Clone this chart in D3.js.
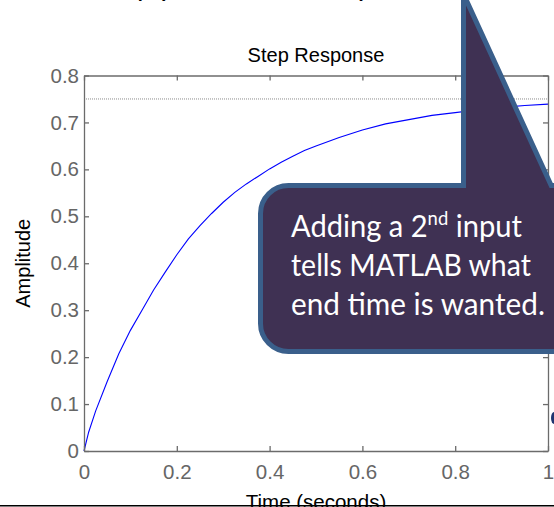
<!DOCTYPE html>
<html>
<head>
<meta charset="utf-8">
<script src="https://cdn.jsdelivr.net/npm/d3@7"></script>
<style>
  html, body { margin: 0; padding: 0; background: #fff; }
  svg { display: block; }
</style>
</head>
<body>
<svg id="chart" width="554" height="507"></svg>
<script>
// values
const timeS = [0, 0.01, 0.025, 0.05, 0.075, 0.1, 0.125, 0.15, 0.175, 0.2, 0.225, 0.25,
  0.275, 0.3, 0.325, 0.35, 0.375, 0.4, 0.425, 0.45, 0.475, 0.5, 0.55, 0.6, 0.65,
  0.7, 0.75, 0.8, 0.85, 0.9, 0.95, 1.0];
const amplitude = [0, 0.04, 0.085, 0.148, 0.207, 0.257, 0.3, 0.343, 0.381, 0.418, 0.452, 0.48,
  0.506, 0.53, 0.551, 0.569, 0.585, 0.601, 0.615, 0.628, 0.64, 0.65, 0.668, 0.684, 0.697,
  0.706, 0.715, 0.721, 0.727, 0.732, 0.736, 0.739];
const steadyState = [0.75];
const xTicks = [0, 0.2, 0.4, 0.6, 0.8, 1];
const yTicks = [0, 0.1, 0.2, 0.3, 0.4, 0.5, 0.6, 0.7, 0.8];
const calloutLines = [
  { parts: [["Adding a 2", false], ["nd", true], [" input", false]], right: 522 },
  { parts: [["tells MATLAB what", false]], right: 531 },
  { parts: [["end time is wanted.", false]], right: 545 }
];

const width = 554;
const height = 507;
const plotL = 84, plotR = 548, plotT = 75.5, plotB = 451;
const axisGray = "#6b6b6b";

const svg = d3.select("#chart");
svg.append("rect").attr("width", width).attr("height", height).attr("fill", "#fff");

const x = d3.scaleLinear().domain([0, 1]).range([plotL, plotR]);
const y = d3.scaleLinear().domain([0, 0.8]).range([plotB, plotT]);
const fmt = d3.format("~g");

// cut-off code line at the very top, only its lowest pixels show
svg.append("text")
  .attr("x", 86).attr("y", -5)
  .style("font-family", "Liberation Mono, monospace")
  .style("font-size", "28px")
  .attr("fill", "#000")
  .text("step(num, den, 1)");

// steady state line
svg.selectAll(".ss")
  .data(steadyState)
  .join("line")
  .attr("class", "ss")
  .attr("x1", x(0)).attr("x2", x(1))
  .attr("y1", d => y(d)).attr("y2", d => y(d))
  .attr("stroke", "#8a8a8a")
  .attr("stroke-width", 1)
  .attr("stroke-dasharray", "1,1");

// response curve
const line = d3.line()
  .x((d, i) => x(timeS[i]))
  .y(d => y(d));

svg.append("path")
  .datum(amplitude)
  .attr("d", line)
  .attr("fill", "none")
  .attr("stroke", "#0000ff")
  .attr("stroke-width", 1.1);

// axes, box style with inward ticks
function styleAxis(g) {
  g.selectAll("path, line").attr("stroke", axisGray).attr("stroke-width", 1.3);
  g.selectAll("text")
    .attr("fill", "#666")
    .style("font-family", "Liberation Sans, Arial, sans-serif")
    .style("font-size", "20.5px");
}

svg.append("g")
  .attr("transform", `translate(0,${plotB})`)
  .call(d3.axisBottom(x).tickValues(xTicks).tickFormat(fmt)
    .tickSizeInner(-5).tickSizeOuter(0).tickPadding(13))
  .call(styleAxis);

svg.append("g")
  .attr("transform", `translate(${plotL},0)`)
  .call(d3.axisLeft(y).tickValues(yTicks).tickFormat(fmt)
    .tickSizeInner(-5).tickSizeOuter(0).tickPadding(5))
  .call(styleAxis);

svg.append("g")
  .attr("transform", `translate(0,${plotT})`)
  .call(d3.axisTop(x).tickValues(xTicks).tickFormat("")
    .tickSizeInner(-5).tickSizeOuter(0))
  .call(styleAxis);

svg.append("g")
  .attr("transform", `translate(${plotR},0)`)
  .call(d3.axisRight(y).tickValues(yTicks).tickFormat("")
    .tickSizeInner(-5).tickSizeOuter(0))
  .call(styleAxis);

// titles
svg.append("text")
  .attr("x", (plotL + plotR) / 2).attr("y", 61.5)
  .attr("text-anchor", "middle")
  .style("font-family", "Liberation Sans, Arial, sans-serif")
  .style("font-size", "20px")
  .text("Step Response");

svg.append("text")
  .attr("transform", `translate(29.5,${(plotT + plotB) / 2}) rotate(-90)`)
  .attr("text-anchor", "middle")
  .style("font-family", "Liberation Sans, Arial, sans-serif")
  .style("font-size", "20px")
  .text("Amplitude");

svg.append("text")
  .attr("x", (plotL + plotR) / 2).attr("y", 508.5)
  .attr("text-anchor", "middle")
  .style("font-family", "Liberation Sans, Arial, sans-serif")
  .style("font-size", "20.5px")
  .text("Time (seconds)");

// slide edge line at the bottom
svg.append("line")
  .attr("x1", 0).attr("x2", width)
  .attr("y1", 505.7).attr("y2", 505.7)
  .attr("stroke", "#000").attr("stroke-width", 1.5);

// bit of something off the right edge
svg.append("ellipse")
  .attr("cx", 554).attr("cy", 418).attr("rx", 3).attr("ry", 6)
  .attr("fill", "#1f3570");

// callout balloon
const bx0 = 260.5, by0 = 185.5, by1 = 351.5, r = 28, px = 463.5;
const callout = d3.path();
callout.moveTo(px, -6);
callout.lineTo(551.2, by0);
callout.lineTo(620, by0);
callout.lineTo(620, by1);
callout.lineTo(bx0 + r, by1);
callout.arcTo(bx0, by1, bx0, by1 - r, r);
callout.lineTo(bx0, by0 + r);
callout.arcTo(bx0, by0, bx0 + r, by0, r);
callout.lineTo(px, by0);
callout.closePath();

svg.append("path")
  .attr("d", callout.toString())
  .attr("fill", "#3f3153")
  .attr("stroke", "#3a5f8b")
  .attr("stroke-width", 5)
  .attr("stroke-linejoin", "miter");

const baselines = [236.5, 276, 315];
const textLeft = 291;

calloutLines.forEach((ln, i) => {
  const t = svg.append("text")
    .attr("fill", "#fff")
    .style("font-family", "Lato, 'Open Sans', sans-serif")
    .style("font-size", "30px");
  ln.parts.forEach(([s, sup]) => {
    const ts = t.append("tspan").text(s);
    if (sup) ts.style("font-size", "19px").attr("dy", -12);
    else if (i === 0 && s.startsWith(" ")) ts.attr("dy", 12);
  });
  const w = t.node().getComputedTextLength();
  const sx = (ln.right - textLeft) / w;
  t.attr("transform", `translate(${textLeft},${baselines[i]}) scale(${sx},1)`);
});
</script>
</body>
</html>
